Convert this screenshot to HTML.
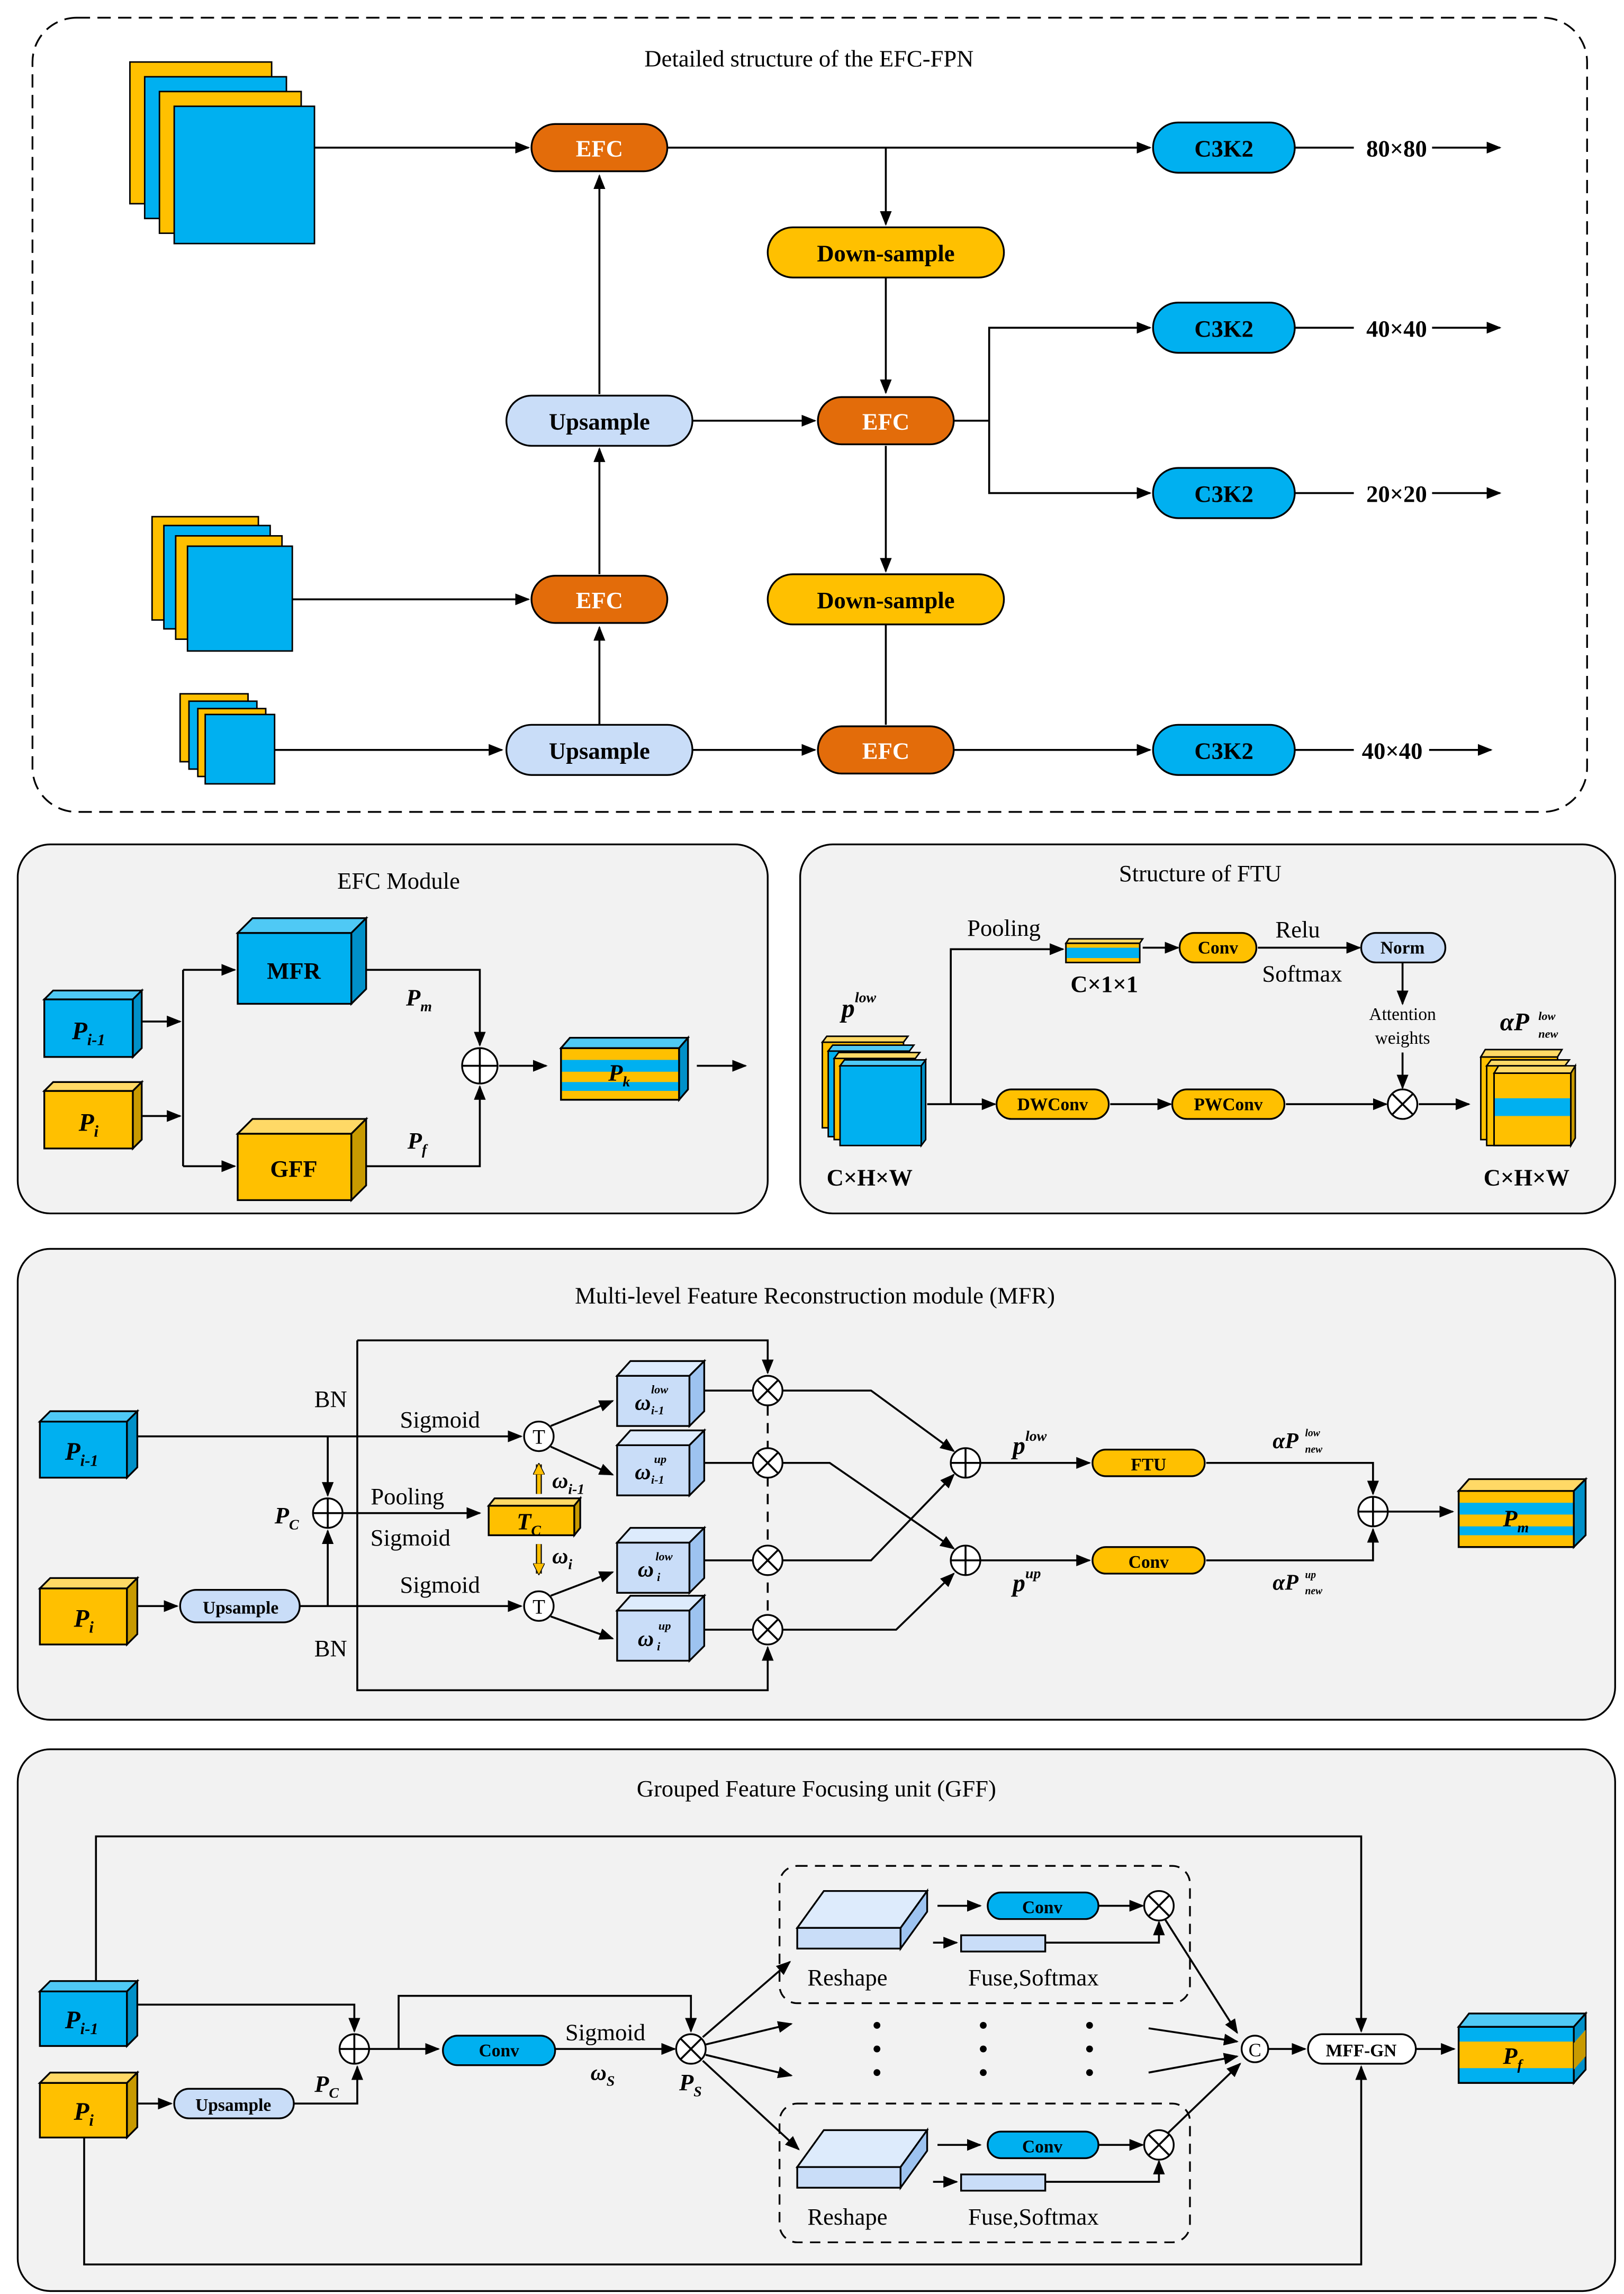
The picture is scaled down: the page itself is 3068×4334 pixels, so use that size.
<!DOCTYPE html>
<html><head><meta charset="utf-8"><style>
html,body{margin:0;padding:0;background:#fff}
svg{display:block}
text{font-family:"Liberation Serif",serif;fill:#000}
.t{font-size:16px}
.b{font-weight:bold}
.i{font-style:italic;font-weight:bold}
.ln{stroke:#000;stroke-width:1.3;fill:none}
</style></head><body>
<svg width="3068" height="4334" viewBox="0 0 1100 1554" preserveAspectRatio="none" xmlns="http://www.w3.org/2000/svg">
<defs>
<marker id="a" markerWidth="10" markerHeight="8" refX="9" refY="4" orient="auto" markerUnits="userSpaceOnUse"><path d="M0,0L10,4L0,8z" fill="#000"/></marker>
<marker id="ay" markerWidth="8" markerHeight="8" refX="7" refY="4" orient="auto" markerUnits="userSpaceOnUse"><path d="M0,0L8,4L0,8z" fill="#FFC000" stroke="#000" stroke-width=".5"/></marker>
</defs>
<rect width="1100" height="1554" fill="#fff"/>

<!-- ===== TOP PANEL ===== -->
<rect x="22" y="12" width="1053" height="538" rx="30" fill="#fff" stroke="#000" stroke-width="1.2" stroke-dasharray="9,5"/>
<text x="548" y="45" class="t" text-anchor="middle">Detailed structure of the EFC-FPN</text>

<!-- stack 1 -->
<g stroke="#000" stroke-width="1">
<rect x="88" y="42" width="96" height="96" fill="#FFC000"/>
<rect x="98" y="52" width="96" height="96" fill="#00B0F0"/>
<rect x="108" y="62" width="96" height="96" fill="#FFC000"/>
<rect x="118" y="72" width="95" height="93" fill="#00B0F0"/>
<!-- stack 2 -->
<rect x="103" y="350" width="72" height="70" fill="#FFC000"/>
<rect x="111" y="356" width="72" height="70" fill="#00B0F0"/>
<rect x="119" y="363" width="72" height="70" fill="#FFC000"/>
<rect x="127" y="370" width="71" height="71" fill="#00B0F0"/>
<!-- stack 3 -->
<rect x="122" y="470" width="46" height="46" fill="#FFC000"/>
<rect x="128" y="475" width="46" height="46" fill="#00B0F0"/>
<rect x="134" y="480" width="46" height="46" fill="#FFC000"/>
<rect x="139" y="484" width="47" height="47" fill="#00B0F0"/>
</g>

<g class="ln">
<path d="M213,100H358" marker-end="url(#a)"/>
<path d="M452,100H779" marker-end="url(#a)"/>
<path d="M877,100H917" />
<path d="M970,100H1016" marker-end="url(#a)"/>
<path d="M600,100V152" marker-end="url(#a)"/>
<path d="M600,188V266" marker-end="url(#a)"/>
<path d="M469,285H552" marker-end="url(#a)"/>
<path d="M406,267V119" marker-end="url(#a)"/>
<path d="M646,285H670V222H779" marker-end="url(#a)"/>
<path d="M670,285V334H779" marker-end="url(#a)"/>
<path d="M877,222H917"/><path d="M970,222H1016" marker-end="url(#a)"/>
<path d="M877,334H917"/><path d="M970,334H1016" marker-end="url(#a)"/>
<path d="M600,302V387" marker-end="url(#a)"/>
<path d="M600,423V491"/>
<path d="M198,406H358" marker-end="url(#a)"/>
<path d="M406,389V304" marker-end="url(#a)"/>
<path d="M186,508H340" marker-end="url(#a)"/>
<path d="M406,491V425" marker-end="url(#a)"/>
<path d="M469,508H552" marker-end="url(#a)"/>
<path d="M646,508H779" marker-end="url(#a)"/>
<path d="M877,508H917"/><path d="M968,508H1010" marker-end="url(#a)"/>
</g>
<g stroke="#000" stroke-width="1.2">
<rect x="360" y="84" width="92" height="32" rx="16" fill="#E36C0A"/>
<rect x="360" y="390" width="92" height="32" rx="16" fill="#E36C0A"/>
<rect x="554" y="269" width="92" height="32" rx="16" fill="#E36C0A"/>
<rect x="554" y="492" width="92" height="32" rx="16" fill="#E36C0A"/>
<rect x="781" y="83" width="96" height="34" rx="17" fill="#00B0F0"/>
<rect x="781" y="205" width="96" height="34" rx="17" fill="#00B0F0"/>
<rect x="781" y="317" width="96" height="34" rx="17" fill="#00B0F0"/>
<rect x="781" y="491" width="96" height="34" rx="17" fill="#00B0F0"/>
<rect x="520" y="154" width="160" height="34" rx="17" fill="#FFC000"/>
<rect x="520" y="389" width="160" height="34" rx="17" fill="#FFC000"/>
<rect x="343" y="268" width="126" height="34" rx="17" fill="#C9DDF8"/>
<rect x="343" y="491" width="126" height="34" rx="17" fill="#C9DDF8"/>
</g>
<g class="t b" text-anchor="middle" font-size="17">
<text x="406" y="106" fill="#fff" style="fill:#fff">EFC</text>
<text x="406" y="412" style="fill:#fff">EFC</text>
<text x="600" y="291" style="fill:#fff">EFC</text>
<text x="600" y="514" style="fill:#fff">EFC</text>
<text x="829" y="106">C3K2</text><text x="829" y="228">C3K2</text>
<text x="829" y="340">C3K2</text><text x="829" y="514">C3K2</text>
<text x="600" y="177">Down-sample</text><text x="600" y="412">Down-sample</text>
<text x="406" y="291">Upsample</text><text x="406" y="514">Upsample</text>
<text x="946" y="106">80×80</text><text x="946" y="228">40×40</text>
<text x="946" y="340">20×20</text><text x="943" y="514">40×40</text>
</g>

<!-- ===== EFC MODULE ===== -->
<rect x="12" y="572" width="508" height="250" rx="22" fill="#F2F2F2" stroke="#000" stroke-width="1.2"/>
<text x="270" y="602" class="t" text-anchor="middle">EFC Module</text>
<g stroke="#000" stroke-width="1.2">
<!-- Pi-1 -->
<rect x="30" y="677" width="60" height="39" fill="#00B0F0"/>
<polygon points="30,677 36,671 96,671 90,677" fill="#4FC9F5"/>
<polygon points="90,677 96,671 96,710 90,716" fill="#0090C8"/>
<!-- Pi -->
<rect x="30" y="739" width="60" height="39" fill="#FFC000"/>
<polygon points="30,739 36,733 96,733 90,739" fill="#FFD966"/>
<polygon points="90,739 96,733 96,772 90,778" fill="#C89A00"/>
<!-- MFR -->
<rect x="161" y="632" width="77" height="48" fill="#00B0F0"/>
<polygon points="161,632 171,622 248,622 238,632" fill="#4FC9F5"/>
<polygon points="238,632 248,622 248,670 238,680" fill="#0090C8"/>
<!-- GFF -->
<rect x="161" y="768" width="77" height="45" fill="#FFC000"/>
<polygon points="161,768 171,758 248,758 238,768" fill="#FFD966"/>
<polygon points="238,768 248,758 248,803 238,813" fill="#C89A00"/>
<!-- Pk -->
<rect x="380" y="710" width="80" height="35" fill="#FFC000"/>
<rect x="380" y="718" width="80" height="8" fill="#00B0F0" stroke="none"/>
<rect x="380" y="733" width="80" height="6" fill="#00B0F0" stroke="none"/>
<rect x="380" y="710" width="80" height="35" fill="none"/>
<polygon points="380,710 386,703 466,703 460,710" fill="#4FC9F5"/>
<polygon points="460,710 466,703 466,738 460,745" fill="#0090C8"/>
</g>
<g class="ln">
<path d="M96,692H122" marker-end="url(#a)"/>
<path d="M96,756H122" marker-end="url(#a)"/>
<path d="M124,657V790"/>
<path d="M124,657H159" marker-end="url(#a)"/>
<path d="M124,790H159" marker-end="url(#a)"/>
<path d="M248,657H325V708" marker-end="url(#a)"/>
<path d="M248,790H325V736" marker-end="url(#a)"/>
<path d="M338,722H370" marker-end="url(#a)"/>
<path d="M472,722H505" marker-end="url(#a)"/>
</g>
<circle cx="325" cy="722" r="12" fill="#fff" stroke="#000" stroke-width="1.2"/>
<path d="M313,722H337M325,710V734" class="ln"/>
<text x="60" y="704" class="i" font-size="17" text-anchor="middle">P<tspan font-size="11" dy="4">i-1</tspan></text>
<text x="60" y="766" class="i" font-size="17" text-anchor="middle">P<tspan font-size="11" dy="4">i</tspan></text>
<text x="199" y="663" class="t b" font-size="17" text-anchor="middle">MFR</text>
<text x="199" y="797" class="t b" font-size="17" text-anchor="middle">GFF</text>
<text x="275" y="681" class="i" font-size="16">P<tspan font-size="10" dy="4">m</tspan></text>
<text x="276" y="778" class="i" font-size="16">P<tspan font-size="10" dy="4">f</tspan></text>
<text x="412" y="732" class="i" font-size="16">P<tspan font-size="10" dy="4">k</tspan></text>

<!-- ===== FTU ===== -->
<rect x="542" y="572" width="552" height="250" rx="22" fill="#F2F2F2" stroke="#000" stroke-width="1.2"/>
<text x="813" y="597" class="t" text-anchor="middle">Structure of FTU</text>
<g stroke="#000" stroke-width="1">
<rect x="557" y="706" width="55" height="58" fill="#FFC000"/><polygon points="557,706 560,702 615,702 612,706" fill="#FFD966"/>
<rect x="561" y="712" width="55" height="58" fill="#00B0F0"/><polygon points="561,712 564,708 619,708 616,712" fill="#4FC9F5"/>
<rect x="565" y="717" width="55" height="55" fill="#FFC000"/><polygon points="565,717 568,713 623,713 620,717" fill="#FFD966"/>
<rect x="569" y="722" width="55" height="54" fill="#00B0F0"/><polygon points="569,722 572,718 627,718 624,722" fill="#4FC9F5"/>
<polygon points="624,722 627,718 627,772 624,776" fill="#0090C8"/>
<!-- out stack -->
<rect x="1003" y="716" width="52" height="56" fill="#FFC000"/><polygon points="1003,716 1006,711 1058,711 1055,716" fill="#FFD966"/>
<rect x="1007" y="722" width="53" height="54" fill="#FFC000"/><polygon points="1007,722 1010,718 1063,718 1060,722" fill="#FFD966"/>
<rect x="1012" y="727" width="52" height="49" fill="#FFC000"/><polygon points="1012,727 1015,722 1067,722 1064,727" fill="#FFD966"/>
<rect x="1012" y="744" width="52" height="12" fill="#00B0F0" stroke="none"/>
<polygon points="1064,727 1067,722 1067,771 1064,776" fill="#C89A00"/>
<rect x="1012" y="727" width="52" height="49" fill="none"/>
<!-- small bar -->
<rect x="722" y="639" width="50" height="13" fill="#FFC000"/>
<rect x="722" y="642" width="50" height="7" fill="#00B0F0" stroke="none"/>
<polygon points="722,639 724,636 774,636 772,639" fill="#FFD966"/>
<rect x="722" y="639" width="50" height="13" fill="none"/>
</g>
<g class="ln">
<path d="M628,748H674" marker-end="url(#a)"/>
<path d="M644,748V643H720" marker-end="url(#a)"/>
<path d="M752,748H793" marker-end="url(#a)"/>
<path d="M871,748H939" marker-end="url(#a)"/>
<path d="M961,748H995" marker-end="url(#a)"/>
<path d="M774,642H798" marker-end="url(#a)"/>
<path d="M852,642H921" marker-end="url(#a)"/>
<path d="M950,652V680" marker-end="url(#a)"/>
<path d="M950,713V737" marker-end="url(#a)"/>
</g>
<g stroke="#000" stroke-width="1.2">
<rect x="675" y="738" width="76" height="20" rx="10" fill="#FFC000"/>
<rect x="794" y="738" width="76" height="20" rx="10" fill="#FFC000"/>
<rect x="799" y="632" width="52" height="20" rx="10" fill="#FFC000"/>
<rect x="922" y="632" width="57" height="20" rx="10" fill="#C9DDF8"/>
</g>
<circle cx="950" cy="748" r="10" fill="#fff" stroke="#000" stroke-width="1.2"/>
<path d="M943,741L957,755M957,741L943,755" class="ln"/>
<g class="b" font-size="12" text-anchor="middle">
<text x="713" y="752">DWConv</text><text x="832" y="752">PWConv</text>
<text x="825" y="646">Conv</text><text x="950" y="646">Norm</text>
</g>
<text x="680" y="634" class="t" text-anchor="middle">Pooling</text>
<text x="879" y="635" class="t" text-anchor="middle">Relu</text>
<text x="882" y="665" class="t" text-anchor="middle">Softmax</text>
<text x="748" y="672" class="t b" text-anchor="middle">C×1×1</text>
<text x="950" y="691" font-size="12" text-anchor="middle">Attention</text>
<text x="950" y="707" font-size="12" text-anchor="middle">weights</text>
<text x="589" y="803" class="t b" text-anchor="middle">C×H×W</text>
<text x="1034" y="803" class="t b" text-anchor="middle">C×H×W</text>
<text x="570" y="689" class="i" font-size="18">p<tspan font-size="10" dy="-10">low</tspan></text>
<text x="1016" y="698" class="i" font-size="17">αP</text>
<text x="1042" y="691" class="i" font-size="8">low</text><text x="1042" y="703" class="i" font-size="8">new</text>

<!-- ===== MFR ===== -->
<rect x="12" y="846" width="1082" height="319" rx="22" fill="#F2F2F2" stroke="#000" stroke-width="1.2"/>
<text x="552" y="883" class="t" text-anchor="middle">Multi-level Feature Reconstruction module (MFR)</text>
<g stroke="#000" stroke-width="1.2">
<rect x="27" y="963" width="59" height="38" fill="#00B0F0"/>
<polygon points="27,963 34,956 93,956 86,963" fill="#4FC9F5"/>
<polygon points="86,963 93,956 93,994 86,1001" fill="#0090C8"/>
<rect x="27" y="1076" width="59" height="38" fill="#FFC000"/>
<polygon points="27,1076 34,1069 93,1069 86,1076" fill="#FFD966"/>
<polygon points="86,1076 93,1069 93,1107 86,1114" fill="#C89A00"/>
<!-- Tc -->
<rect x="331" y="1020" width="58" height="20" fill="#FFC000"/>
<polygon points="331,1020 335,1015 393,1015 389,1020" fill="#FFD966"/>
<polygon points="389,1020 393,1015 393,1035 389,1040" fill="#C89A00"/>
<!-- weight cubes -->
<rect x="418" y="932" width="49" height="34" fill="#C9DDF8"/><polygon points="418,932 427,922 477,922 467,932" fill="#DDEBFC"/><polygon points="467,932 477,922 477,956 467,966" fill="#9DC3F0"/>
<rect x="418" y="979" width="49" height="34" fill="#C9DDF8"/><polygon points="418,979 427,969 477,969 467,979" fill="#DDEBFC"/><polygon points="467,979 477,969 477,1003 467,1013" fill="#9DC3F0"/>
<rect x="418" y="1045" width="49" height="34" fill="#C9DDF8"/><polygon points="418,1045 427,1035 477,1035 467,1045" fill="#DDEBFC"/><polygon points="467,1045 477,1035 477,1069 467,1079" fill="#9DC3F0"/>
<rect x="418" y="1091" width="49" height="34" fill="#C9DDF8"/><polygon points="418,1091 427,1081 477,1081 467,1091" fill="#DDEBFC"/><polygon points="467,1091 477,1081 477,1115 467,1125" fill="#9DC3F0"/>
<!-- Pm -->
<rect x="988" y="1010" width="78" height="38" fill="#FFC000"/>
<rect x="988" y="1018" width="78" height="8" fill="#00B0F0" stroke="none"/>
<rect x="988" y="1034" width="78" height="6" fill="#00B0F0" stroke="none"/>
<rect x="988" y="1010" width="78" height="38" fill="none"/>
<polygon points="988,1010 995,1002 1074,1002 1066,1010" fill="#FFD966"/>
<polygon points="1066,1010 1074,1002 1074,1040 1066,1048" fill="#0090C8"/>
</g>
<g class="ln">
<path d="M93,973H353" marker-end="url(#a)"/>
<path d="M93,1088H120" marker-end="url(#a)"/>
<path d="M203,1088H353" marker-end="url(#a)"/>
<path d="M222,973V1013" marker-end="url(#a)"/>
<path d="M222,1088V1037" marker-end="url(#a)"/>
<path d="M212,1025H325" marker-end="url(#a)"/>
<path d="M242,908H520V930" marker-end="url(#a)"/>
<path d="M242,908V1145H520V1116" marker-end="url(#a)"/>
<path d="M373,966L415,949" marker-end="url(#a)"/>
<path d="M373,980L415,999" marker-end="url(#a)"/>
<path d="M373,1081L415,1065" marker-end="url(#a)"/>
<path d="M373,1095L415,1110" marker-end="url(#a)"/>
<path d="M477,942H510M477,991H510M477,1057H510M477,1104H510"/>
<path d="M520,952V1094" stroke-dasharray="7,5"/>
<path d="M530,942H590L646,983" marker-end="url(#a)"/>
<path d="M530,991H562L646,1049" marker-end="url(#a)"/>
<path d="M530,1057H590L646,999" marker-end="url(#a)"/>
<path d="M530,1104H607L646,1066" marker-end="url(#a)"/>
<path d="M664,991H738" marker-end="url(#a)"/>
<path d="M664,1057H738" marker-end="url(#a)"/>
<path d="M817,991H930V1012" marker-end="url(#a)"/>
<path d="M817,1057H930V1036" marker-end="url(#a)"/>
<path d="M940,1024H984" marker-end="url(#a)"/>
</g>
<path d="M365,1012V992" stroke="#000" stroke-width="4"/><path d="M365,1012V992" stroke="#FFC000" stroke-width="2.5" marker-end="url(#ay)"/>
<path d="M365,1046V1066" stroke="#000" stroke-width="4"/><path d="M365,1046V1066" stroke="#FFC000" stroke-width="2.5" marker-end="url(#ay)"/>
<g stroke="#000" stroke-width="1.2">
<rect x="122" y="1077" width="81" height="22" rx="11" fill="#C9DDF8"/>
<rect x="740" y="982" width="76" height="18" rx="9" fill="#FFC000"/>
<rect x="740" y="1048" width="76" height="18" rx="9" fill="#FFC000"/>
</g>
<g fill="#fff" stroke="#000" stroke-width="1.2">
<circle cx="365" cy="973" r="10"/><circle cx="365" cy="1088" r="10"/>
<circle cx="222" cy="1025" r="10"/>
<circle cx="520" cy="942" r="10"/><circle cx="520" cy="991" r="10"/><circle cx="520" cy="1057" r="10"/><circle cx="520" cy="1104" r="10"/>
<circle cx="654" cy="991" r="10"/><circle cx="654" cy="1057" r="10"/><circle cx="930" cy="1024" r="10"/>
</g>
<path class="ln" d="M212,1025H232M222,1015V1035M644,991H664M654,981V1001M644,1057H664M654,1047V1067M920,1024H940M930,1014V1034
M513,935L527,949M527,935L513,949M513,984L527,998M527,984L513,998M513,1050L527,1064M527,1050L513,1064M513,1097L527,1111M527,1097L513,1111"/>
<text x="365" y="978" font-size="14" text-anchor="middle">T</text>
<text x="365" y="1093" font-size="14" text-anchor="middle">T</text>
<g class="t" text-anchor="middle">
<text x="224" y="953">BN</text><text x="224" y="1122">BN</text>
<text x="298" y="967">Sigmoid</text><text x="298" y="1079">Sigmoid</text>
<text x="276" y="1019">Pooling</text><text x="278" y="1047">Sigmoid</text>
</g>
<text x="163" y="1093" class="b" font-size="12" text-anchor="middle">Upsample</text>
<text x="778" y="996" class="b" font-size="12" text-anchor="middle">FTU</text>
<text x="778" y="1062" class="b" font-size="12" text-anchor="middle">Conv</text>
<text x="44" y="989" class="i" font-size="17">P<tspan font-size="11" dy="4">i-1</tspan></text>
<text x="50" y="1102" class="i" font-size="17">P<tspan font-size="11" dy="4">i</tspan></text>
<text x="186" y="1032" class="i" font-size="16">P<tspan font-size="10" dy="4">C</tspan></text>
<text x="350" y="1036" class="i" font-size="16">T<tspan font-size="10" dy="4">C</tspan></text>
<text x="374" y="1008" class="i" font-size="15">ω<tspan font-size="10" dy="4">i-1</tspan></text>
<text x="374" y="1059" class="i" font-size="15">ω<tspan font-size="10" dy="4">i</tspan></text>
<g class="i" font-size="15">
<text x="430" y="955">ω</text><text x="441" y="944" font-size="8">low</text><text x="441" y="958" font-size="8">i-1</text>
<text x="430" y="1002">ω</text><text x="443" y="991" font-size="8">up</text><text x="441" y="1005" font-size="8">i-1</text>
<text x="432" y="1068">ω</text><text x="444" y="1057" font-size="8">low</text><text x="445" y="1071" font-size="8">i</text>
<text x="432" y="1115">ω</text><text x="446" y="1104" font-size="8">up</text><text x="445" y="1118" font-size="8">i</text>
</g>
<text x="686" y="985" class="i" font-size="17">p<tspan font-size="10" dy="-9">low</tspan></text>
<text x="686" y="1078" class="i" font-size="17">p<tspan font-size="10" dy="-9">up</tspan></text>
<text x="862" y="981" class="i" font-size="15">αP</text><text x="884" y="973" class="i" font-size="7">low</text><text x="884" y="984" class="i" font-size="7">new</text>
<text x="862" y="1077" class="i" font-size="15">αP</text><text x="884" y="1069" class="i" font-size="7">up</text><text x="884" y="1080" class="i" font-size="7">new</text>
<text x="1018" y="1034" class="i" font-size="16">P<tspan font-size="10" dy="4">m</tspan></text>

<!-- ===== GFF ===== -->
<rect x="12" y="1185" width="1082" height="367" rx="22" fill="#F2F2F2" stroke="#000" stroke-width="1.2"/>
<text x="553" y="1217" class="t" text-anchor="middle">Grouped Feature Focusing unit (GFF)</text>
<rect x="528" y="1264" width="278" height="93" rx="12" fill="none" stroke="#000" stroke-width="1.2" stroke-dasharray="7,5"/>
<rect x="528" y="1425" width="278" height="94" rx="12" fill="none" stroke="#000" stroke-width="1.2" stroke-dasharray="7,5"/>
<g stroke="#000" stroke-width="1.2">
<rect x="27" y="1349" width="59" height="37" fill="#00B0F0"/>
<polygon points="27,1349 34,1342 93,1342 86,1349" fill="#4FC9F5"/>
<polygon points="86,1349 93,1342 93,1379 86,1386" fill="#0090C8"/>
<rect x="27" y="1411" width="59" height="37" fill="#FFC000"/>
<polygon points="27,1411 34,1404 93,1404 86,1411" fill="#FFD966"/>
<polygon points="86,1411 93,1404 93,1441 86,1448" fill="#C89A00"/>
<!-- slabs -->
<polygon points="540,1306 558,1281 628,1281 610,1306" fill="#DDEBFC"/>
<rect x="540" y="1306" width="70" height="14" fill="#C9DDF8"/>
<polygon points="610,1306 628,1281 628,1295 610,1320" fill="#9DC3F0"/>
<polygon points="540,1468 558,1443 628,1443 610,1468" fill="#DDEBFC"/>
<rect x="540" y="1468" width="70" height="14" fill="#C9DDF8"/>
<polygon points="610,1468 628,1443 628,1457 610,1482" fill="#9DC3F0"/>
<rect x="651" y="1311" width="57" height="11" fill="#C9DDF8"/>
<rect x="651" y="1473" width="57" height="11" fill="#C9DDF8"/>
<!-- Pf -->
<rect x="988" y="1373" width="78" height="38" fill="#00B0F0"/>
<rect x="988" y="1383" width="78" height="18" fill="#FFC000" stroke="none"/>
<rect x="988" y="1373" width="78" height="38" fill="none"/>
<polygon points="988,1373 995,1364 1074,1364 1066,1373" fill="#4FC9F5"/>
<polygon points="1066,1373 1074,1364 1074,1402 1066,1411" fill="#0090C8"/>
<polygon points="1066,1384 1074,1375 1074,1393 1066,1402" fill="#C89A00" stroke="none"/>
</g>
<g class="ln">
<path d="M65,1342V1244H922V1376" marker-end="url(#a)"/>
<path d="M57,1448V1534H922V1400" marker-end="url(#a)"/>
<path d="M93,1358H240V1376" marker-end="url(#a)"/>
<path d="M93,1425H116" marker-end="url(#a)"/>
<path d="M199,1425H242V1400" marker-end="url(#a)"/>
<path d="M250,1388H297" marker-end="url(#a)"/>
<path d="M270,1388V1352H468V1376" marker-end="url(#a)"/>
<path d="M376,1388H457" marker-end="url(#a)"/>
<path d="M476,1380L535,1329" marker-end="url(#a)"/>
<path d="M478,1385L536,1371" marker-end="url(#a)"/>
<path d="M478,1392L536,1406" marker-end="url(#a)"/>
<path d="M476,1396L541,1456" marker-end="url(#a)"/>
<path d="M635,1291H664" marker-end="url(#a)"/><path d="M744,1291H774" marker-end="url(#a)"/>
<path d="M632,1316H648" marker-end="url(#a)"/><path d="M708,1316H785V1302" marker-end="url(#a)"/>
<path d="M635,1453H664" marker-end="url(#a)"/><path d="M744,1453H774" marker-end="url(#a)"/>
<path d="M632,1478H648" marker-end="url(#a)"/><path d="M708,1478H785V1464" marker-end="url(#a)"/>
<path d="M789,1300L838,1377" marker-end="url(#a)"/>
<path d="M778,1374L838,1383" marker-end="url(#a)"/>
<path d="M778,1404L838,1393" marker-end="url(#a)"/>
<path d="M790,1446L840,1398" marker-end="url(#a)"/>
<path d="M859,1388H884" marker-end="url(#a)"/>
<path d="M959,1388H985" marker-end="url(#a)"/>
</g>
<g stroke="#000" stroke-width="1.2">
<rect x="118" y="1415" width="81" height="20" rx="10" fill="#C9DDF8"/>
<rect x="300" y="1379" width="76" height="20" rx="10" fill="#00B0F0"/>
<rect x="669" y="1282" width="75" height="18" rx="9" fill="#00B0F0"/>
<rect x="669" y="1444" width="75" height="18" rx="9" fill="#00B0F0"/>
<rect x="886" y="1378" width="73" height="20" rx="10" fill="#fff"/>
</g>
<g fill="#fff" stroke="#000" stroke-width="1.2">
<circle cx="240" cy="1388" r="10"/><circle cx="468" cy="1388" r="10"/>
<circle cx="785" cy="1291" r="10"/><circle cx="785" cy="1453" r="10"/><circle cx="850" cy="1388" r="9"/>
</g>
<path class="ln" d="M230,1388H250M240,1378V1398M461,1381L475,1395M475,1381L461,1395M778,1284L792,1298M792,1284L778,1298M778,1446L792,1460M792,1446L778,1460"/>
<text x="850" y="1393" font-size="13" text-anchor="middle">C</text>
<g fill="#000">
<circle cx="594" cy="1372" r="2.3"/><circle cx="666" cy="1372" r="2.3"/><circle cx="738" cy="1372" r="2.3"/>
<circle cx="594" cy="1388" r="2.3"/><circle cx="666" cy="1388" r="2.3"/><circle cx="738" cy="1388" r="2.3"/>
<circle cx="594" cy="1404" r="2.3"/><circle cx="666" cy="1404" r="2.3"/><circle cx="738" cy="1404" r="2.3"/>
</g>
<g class="b" font-size="12" text-anchor="middle">
<text x="158" y="1430">Upsample</text><text x="338" y="1393">Conv</text>
<text x="706" y="1296">Conv</text><text x="706" y="1458">Conv</text><text x="922" y="1393">MFF-GN</text>
</g>
<g class="t" text-anchor="middle">
<text x="410" y="1382">Sigmoid</text>
<text x="574" y="1345">Reshape</text><text x="700" y="1345">Fuse,Softmax</text>
<text x="574" y="1507">Reshape</text><text x="700" y="1507">Fuse,Softmax</text>
</g>
<text x="44" y="1374" class="i" font-size="17">P<tspan font-size="11" dy="4">i-1</tspan></text>
<text x="50" y="1436" class="i" font-size="17">P<tspan font-size="11" dy="4">i</tspan></text>
<text x="213" y="1417" class="i" font-size="16">P<tspan font-size="10" dy="4">C</tspan></text>
<text x="400" y="1409" class="i" font-size="15">ω<tspan font-size="10" dy="4">S</tspan></text>
<text x="460" y="1416" class="i" font-size="16">P<tspan font-size="10" dy="4">S</tspan></text>
<text x="1018" y="1398" class="i" font-size="16">P<tspan font-size="10" dy="4">f</tspan></text>
</svg>
</body></html>
